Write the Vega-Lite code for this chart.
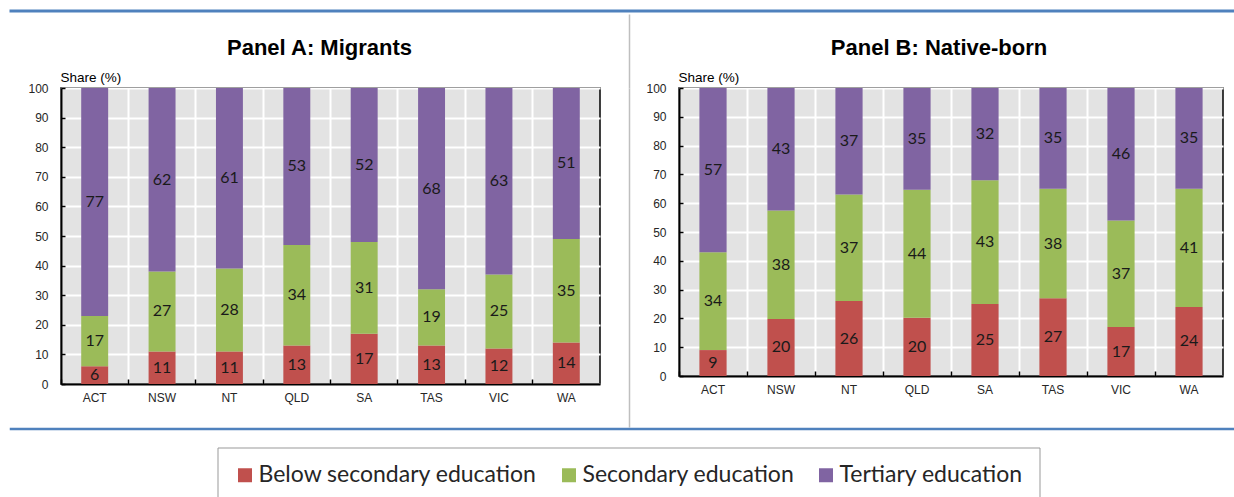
{
  "$schema": "https://vega.github.io/schema/vega-lite/v6.json",
  "padding": {"left": 9, "top": 9, "right": 0, "bottom": 0},
  "datasets": {
    "migrants": [
      {"state": "ACT", "level": "Below secondary education", "share": 6},
      {"state": "ACT", "level": "Secondary education", "share": 17},
      {"state": "ACT", "level": "Tertiary education", "share": 77},
      {"state": "NSW", "level": "Below secondary education", "share": 11},
      {"state": "NSW", "level": "Secondary education", "share": 27},
      {"state": "NSW", "level": "Tertiary education", "share": 62},
      {"state": "NT", "level": "Below secondary education", "share": 11},
      {"state": "NT", "level": "Secondary education", "share": 28},
      {"state": "NT", "level": "Tertiary education", "share": 61},
      {"state": "QLD", "level": "Below secondary education", "share": 13},
      {"state": "QLD", "level": "Secondary education", "share": 34},
      {"state": "QLD", "level": "Tertiary education", "share": 53},
      {"state": "SA", "level": "Below secondary education", "share": 17},
      {"state": "SA", "level": "Secondary education", "share": 31},
      {"state": "SA", "level": "Tertiary education", "share": 52},
      {"state": "TAS", "level": "Below secondary education", "share": 13},
      {"state": "TAS", "level": "Secondary education", "share": 19},
      {"state": "TAS", "level": "Tertiary education", "share": 68},
      {"state": "VIC", "level": "Below secondary education", "share": 12},
      {"state": "VIC", "level": "Secondary education", "share": 25},
      {"state": "VIC", "level": "Tertiary education", "share": 63},
      {"state": "WA", "level": "Below secondary education", "share": 14},
      {"state": "WA", "level": "Secondary education", "share": 35},
      {"state": "WA", "level": "Tertiary education", "share": 51}
    ],
    "native": [
      {"state": "ACT", "level": "Below secondary education", "share": 9},
      {"state": "ACT", "level": "Secondary education", "share": 34},
      {"state": "ACT", "level": "Tertiary education", "share": 57},
      {"state": "NSW", "level": "Below secondary education", "share": 20},
      {"state": "NSW", "level": "Secondary education", "share": 38},
      {"state": "NSW", "level": "Tertiary education", "share": 43},
      {"state": "NT", "level": "Below secondary education", "share": 26},
      {"state": "NT", "level": "Secondary education", "share": 37},
      {"state": "NT", "level": "Tertiary education", "share": 37},
      {"state": "QLD", "level": "Below secondary education", "share": 20},
      {"state": "QLD", "level": "Secondary education", "share": 44},
      {"state": "QLD", "level": "Tertiary education", "share": 35},
      {"state": "SA", "level": "Below secondary education", "share": 25},
      {"state": "SA", "level": "Secondary education", "share": 43},
      {"state": "SA", "level": "Tertiary education", "share": 32},
      {"state": "TAS", "level": "Below secondary education", "share": 27},
      {"state": "TAS", "level": "Secondary education", "share": 38},
      {"state": "TAS", "level": "Tertiary education", "share": 35},
      {"state": "VIC", "level": "Below secondary education", "share": 17},
      {"state": "VIC", "level": "Secondary education", "share": 37},
      {"state": "VIC", "level": "Tertiary education", "share": 46},
      {"state": "WA", "level": "Below secondary education", "share": 24},
      {"state": "WA", "level": "Secondary education", "share": 41},
      {"state": "WA", "level": "Tertiary education", "share": 35}
    ]
  },
  "columns": 1,
  "align": "none",
  "spacing": 0,
  "concat": [
    {
      "width": 1225,
      "height": 0.001,
      "data": {"values": []},
      "mark": {"type": "rule"},
      "encoding": {},
      "view": {"stroke": "#4f81bd", "strokeWidth": 3, "fill": null}
    },
    {
      "columns": 4,
      "align": "none",
      "spacing": 15,
      "concat": [
        {
          "width": 0.001,
          "height": 0.001,
          "data": {"values": []},
          "mark": {"type": "rule"},
          "encoding": {},
          "view": {"stroke": null, "fill": null}
        },
        {
          "width": 539,
          "height": 296,
          "title": {"text": "Panel A: Migrants", "offset": 10, "frame": "group", "dx": -11},
          "data": {"name": "migrants"},
          "encoding": {
            "x": {
              "field": "state", "type": "nominal", "sort": null,
              "scale": {"paddingInner": 0, "paddingOuter": 0},
              "axis": {"title": null}
            },
            "y": {
              "field": "share", "type": "quantitative", "stack": "normalize",
              "scale": {"domain": [0, 1]},
              "axis": {"title": "Share (%)"}
            },
            "order": {"field": "level", "sort": "ascending"}
          },
          "layer": [
            {
              "mark": {"type": "bar", "width": {"band": 0.4}},
              "encoding": {
                "color": {
                  "field": "level", "type": "nominal",
                  "scale": {
                    "domain": ["Below secondary education", "Secondary education", "Tertiary education"],
                    "range": ["#c0504d", "#9bbb59", "#8064a2"]
                  },
                  "legend": {"title": null}
                }
              }
            },
            {
              "mark": {"type": "text", "font": "Lato", "fontSize": 16, "color": "#1a1a1a"},
              "encoding": {
                "y": {"field": "share", "type": "quantitative", "stack": "normalize", "bandPosition": 0.5},
                "detail": {"field": "level"},
                "text": {"field": "share", "type": "quantitative"}
              }
            }
          ]
        },
        {
          "width": 13,
          "height": 339,
          "data": {"values": []},
          "mark": {"type": "point"},
          "encoding": {
            "x": {
              "datum": 1, "type": "quantitative",
              "scale": {"domain": [0, 1]},
              "axis": {"orient": "top", "values": [1], "labels": false, "domain": false, "grid": false, "ticks": true, "tickSize": 74, "tickColor": "#bfbfbf", "tickWidth": 1.5, "title": null}
            },
            "y": {
              "datum": 0, "type": "quantitative",
              "axis": {"orient": "right", "labels": false, "ticks": false, "grid": false, "title": null, "domainColor": "#bfbfbf", "domainWidth": 1.5}
            }
          },
          "view": {"stroke": null, "fill": null}
        },
        {
          "width": 544,
          "height": 288,
          "title": {"text": "Panel B: Native-born", "offset": 10, "frame": "group", "dx": -12},
          "data": {"name": "native"},
          "encoding": {
            "x": {
              "field": "state", "type": "nominal", "sort": null,
              "scale": {"paddingInner": 0, "paddingOuter": 0},
              "axis": {"title": null}
            },
            "y": {
              "field": "share", "type": "quantitative", "stack": "normalize",
              "scale": {"domain": [0, 1]},
              "axis": {"title": "Share (%)"}
            },
            "order": {"field": "level", "sort": "ascending"}
          },
          "layer": [
            {
              "mark": {"type": "bar", "width": {"band": 0.4}},
              "encoding": {
                "color": {
                  "field": "level", "type": "nominal",
                  "scale": {
                    "domain": ["Below secondary education", "Secondary education", "Tertiary education"],
                    "range": ["#c0504d", "#9bbb59", "#8064a2"]
                  },
                  "legend": {"title": null}
                }
              }
            },
            {
              "mark": {"type": "text", "font": "Lato", "fontSize": 16, "color": "#1a1a1a"},
              "encoding": {
                "y": {"field": "share", "type": "quantitative", "stack": "normalize", "bandPosition": 0.5},
                "detail": {"field": "level"},
                "text": {"field": "share", "type": "quantitative"}
              }
            }
          ]
        }
      ]
    },
    {
      "width": 1225,
      "height": 0.001,
      "data": {"values": []},
      "mark": {"type": "rule"},
      "encoding": {},
      "view": {"stroke": "#4f81bd", "strokeWidth": 2.5, "fill": null}
    }
  ],
  "config": {
    "view": {"fill": "#e3e3e3", "stroke": "#000000", "strokeWidth": 1.5},
    "title": {
      "font": "Liberation Sans, Arial, sans-serif",
      "fontSize": 22,
      "fontWeight": "bold",
      "color": "#000000",
      "anchor": "middle"
    },
    "axis": {
      "labelFont": "Liberation Sans, Arial, sans-serif",
      "labelFontSize": 12,
      "labelColor": "#262626",
      "titleFont": "Liberation Sans, Arial, sans-serif",
      "titleFontSize": 13.5,
      "titleFontWeight": "normal",
      "titleColor": "#000000",
      "domainColor": "#000000",
      "domainWidth": 2,
      "tickColor": "#000000",
      "tickWidth": 1.5
    },
    "axisX": {
      "labelAngle": 0,
      "bandPosition": 0,
      "grid": true,
      "gridColor": "#ffffff",
      "gridWidth": 2,
      "tickSize": -5,
      "labelPadding": 13
    },
    "axisY": {
      "values": [0, 0.1, 0.2, 0.3, 0.4, 0.5, 0.6, 0.7, 0.8, 0.9, 1],
      "labelExpr": "format(datum.value * 100, 'd')",
      "grid": true,
      "gridColor": "#ffffff",
      "gridWidth": 2,
      "tickSize": -4,
      "labelPadding": 17,
      "titleAngle": 0,
      "titleAlign": "left",
      "titleBaseline": "bottom",
      "titleX": -1,
      "titleY": -4
    },
    "legend": {
      "orient": "none",
      "legendX": 206.5,
      "legendY": 436.5,
      "direction": "horizontal",
      "padding": 16,
      "strokeColor": "#999999",
      "symbolType": "square",
      "symbolSize": 196,
      "symbolStrokeWidth": 0,
      "labelFont": "Lato",
      "labelFontSize": 23,
      "labelColor": "#262626",
      "labelOffset": 2,
      "columnPadding": 20,
      "labelLimit": 400
    }
  }
}
